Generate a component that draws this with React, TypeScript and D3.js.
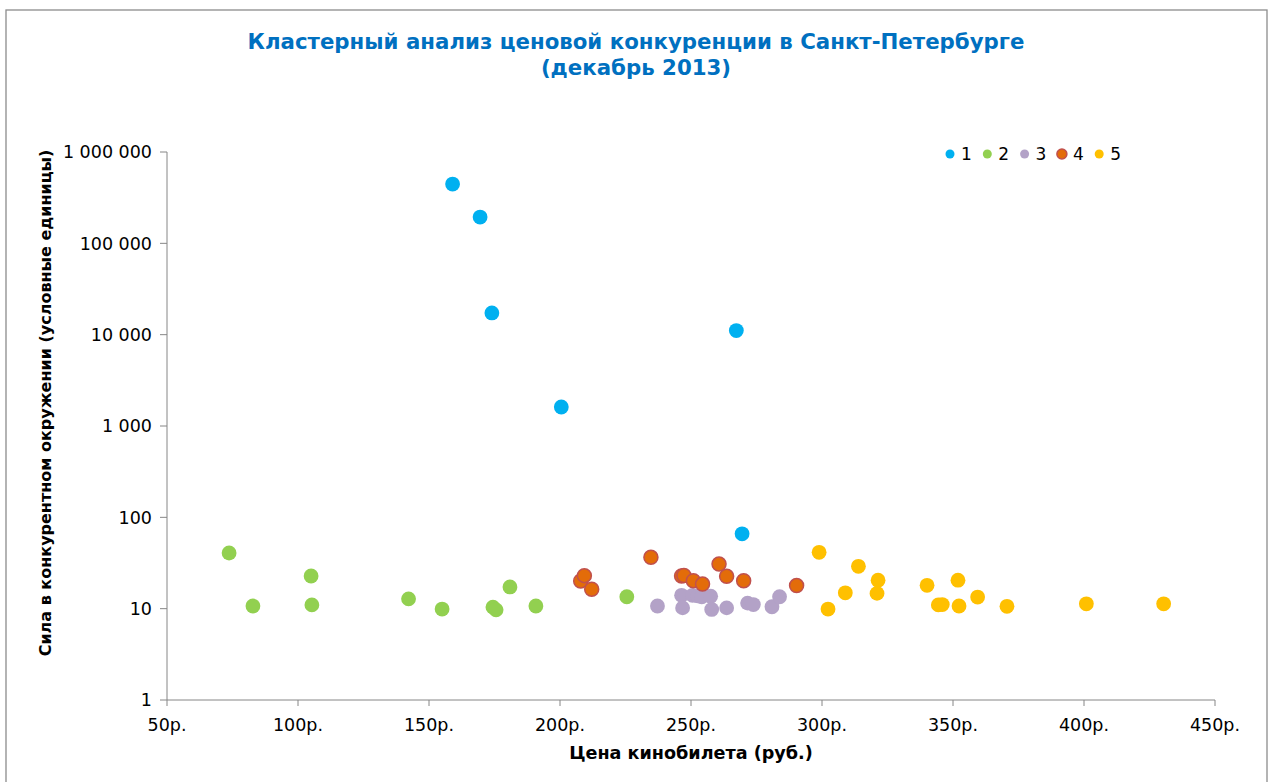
import * as d3 from "d3";

// кластер 1..5: цена билета (руб.) и сила в конкурентном окружении
const c1Price = [159, 169.5, 174, 200.5, 267.3, 269.5];
const c1Power = [446000, 194000, 17300, 1615, 11100, 66];

const c2Price = [73.7, 82.8, 105, 105.3, 142.2, 155, 174.4, 175.6, 180.9, 190.8, 225.5];
const c2Power = [40.7, 10.7, 22.8, 11.0, 12.8, 9.9, 10.4, 9.7, 17.3, 10.7, 13.5];

const c3Price = [237.2, 246.4, 246.8, 250.6, 252.5, 254.1, 257.5, 257.9, 263.6, 271.6, 273.8, 280.9, 283.8];
const c3Power = [10.7, 14.0, 10.2, 14.0, 13.8, 13.5, 13.7, 9.8, 10.2, 11.5, 11.1, 10.5, 13.5];

const c4Price = [207.9, 209.3, 212.1, 234.7, 246.4, 247.3, 250.9, 254.4, 260.7, 263.6, 270.1, 290.3];
const c4Power = [20.1, 23.0, 16.3, 36.5, 22.8, 23.1, 20.2, 18.6, 30.8, 22.6, 20.2, 17.9];

const c5Price = [298.9, 302.3, 308.9, 313.9, 321.4, 321, 340.1, 344.4, 345.9, 351.9, 352.3, 359.4, 370.6, 400.9, 430.4];
const c5Power = [41.4, 9.9, 14.9, 29.1, 20.5, 14.7, 18.0, 11.0, 11.1, 20.5, 10.7, 13.4, 10.6, 11.3, 11.3];

const clusterNames = ["1", "2", "3", "4", "5"];
const xTicks = [50, 100, 150, 200, 250, 300, 350, 400, 450];
const yTicks = [1, 10, 100, 1000, 10000, 100000, 1000000];

const series = [
  { name: clusterNames[0], price: c1Price, power: c1Power, fill: "#00b0f0", stroke: null },
  { name: clusterNames[1], price: c2Price, power: c2Power, fill: "#92d050", stroke: null },
  { name: clusterNames[2], price: c3Price, power: c3Power, fill: "#b3a2c7", stroke: null },
  { name: clusterNames[3], price: c4Price, power: c4Power, fill: "#e36c09", stroke: "#c0504d" },
  { name: clusterNames[4], price: c5Price, power: c5Power, fill: "#ffc000", stroke: null },
];

const W = 1274;
const H = 782;
const font = "'DejaVu Sans', Verdana, sans-serif";
const axisColor = "#868686";

export default function App() {
  const x = d3.scaleLinear().domain([50, 450]).range([167, 1215]);
  const y = d3.scaleLog().domain([1, 1000000]).range([700, 152]);
  const fmtY = (v: number) => d3.format(",")(v).replace(/,/g, " ");

  return (
    <div style={{ position: "absolute", left: 0, top: 0 }}>
      <svg width={W} height={H} style={{ display: "block", background: "#fff" }} fontFamily={font}>
        <rect x={6} y={10} width={1261} height={800} fill="#fff" stroke="#8c8c8c" strokeWidth={1.3} />

        <text x={636} y={49} textAnchor="middle" fill="#0070c0" fontWeight="bold" fontSize={21.3}>
          Кластерный анализ ценовой конкуренции в Санкт-Петербурге
        </text>
        <text x={636} y={75} textAnchor="middle" fill="#0070c0" fontWeight="bold" fontSize={21.3}>
          (декабрь 2013)
        </text>

        {/* оси */}
        <line x1={167} x2={167} y1={y(1000000)} y2={y(1)} stroke={axisColor} />
        <line x1={x(50)} x2={x(450)} y1={700} y2={700} stroke={axisColor} />
        {yTicks.map((t) => (
          <g key={"y" + t}>
            <line x1={160} x2={167} y1={y(t)} y2={y(t)} stroke={axisColor} />
            <text x={152} y={y(t)} dy="0.36em" textAnchor="end" fontSize={17.5} fill="#000">
              {fmtY(t)}
            </text>
          </g>
        ))}
        {xTicks.map((t) => (
          <g key={"x" + t}>
            <line x1={x(t)} x2={x(t)} y1={700} y2={706} stroke={axisColor} />
            <text x={x(t)} y={731} textAnchor="middle" fontSize={17.5} fill="#000">
              {t}р.
            </text>
          </g>
        ))}

        <text x={691} y={759} textAnchor="middle" fontWeight="bold" fontSize={17.6} fill="#000">
          Цена кинобилета (руб.)
        </text>
        <text
          transform="translate(45,403) rotate(-90)"
          textAnchor="middle"
          dy="0.36em"
          fontWeight="bold"
          fontSize={16}
          fill="#000"
        >
          Сила в конкурентном окружении (условные единицы)
        </text>

        {/* точки */}
        {series.map((s) => (
          <g key={s.name}>
            {s.price.map((p, i) => (
              <circle
                key={i}
                cx={x(p)}
                cy={y(s.power[i])}
                r={s.stroke ? 7 : 7.4}
                fill={s.fill}
                stroke={s.stroke ?? "none"}
                strokeWidth={s.stroke ? 1.5 : 0}
              />
            ))}
          </g>
        ))}

        {/* легенда */}
        {series.map((s, i) => (
          <g key={"lg" + s.name} transform={`translate(${950 + i * 37.3},154)`}>
            <circle
              r={s.stroke ? 5 : 4.5}
              fill={s.fill}
              stroke={s.stroke ?? "none"}
              strokeWidth={s.stroke ? 1.5 : 0}
            />
            <text x={11} dy="0.36em" fontSize={17} fill="#000">
              {s.name}
            </text>
          </g>
        ))}
      </svg>
    </div>
  );
}
